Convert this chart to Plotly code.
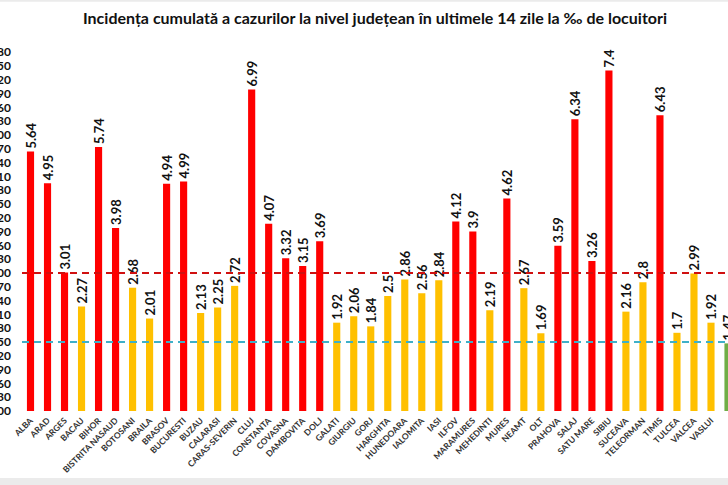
import plotly.graph_objects as go

counties = ["ALBA", "ARAD", "ARGES", "BACAU", "BIHOR", "BISTRITA NASAUD", "BOTOSANI", "BRAILA",
            "BRASOV", "BUCURESTI", "BUZAU", "CALARASI", "CARAS-SEVERIN", "CLUJ", "CONSTANTA",
            "COVASNA", "DAMBOVITA", "DOLJ", "GALATI", "GIURGIU", "GORJ", "HARGHITA", "HUNEDOARA",
            "IALOMITA", "IASI", "ILFOV", "MARAMURES", "MEHEDINTI", "MURES", "NEAMT", "OLT",
            "PRAHOVA", "SALAJ", "SATU MARE", "SIBIU", "SUCEAVA", "TELEORMAN", "TIMIS", "TULCEA",
            "VALCEA", "VASLUI", "VRANCEA"]
values = [5.64, 4.95, 3.01, 2.27, 5.74, 3.98, 2.68, 2.01, 4.94, 4.99, 2.13, 2.25, 2.72, 6.99,
          4.07, 3.32, 3.15, 3.69, 1.92, 2.06, 1.84, 2.5, 2.86, 2.56, 2.84, 4.12, 3.9, 2.19, 4.62,
          2.67, 1.69, 3.59, 6.34, 3.26, 7.4, 2.16, 2.8, 6.43, 1.7, 2.99, 1.92, 1.47]
red_threshold = 3.0
blue_threshold = 1.5
y_ticks = [round(0.3 * i, 2) for i in range(27)]
title = "Incidența cumulată a cazurilor la nivel județean în ultimele 14 zile la ‰ de locuitori"

RED = "#FF0000"
YELLOW = "#FFC000"
GREEN = "#70AD47"
colors = []
for c, v in zip(counties, values):
    if c == "VRANCEA":
        colors.append(GREEN)
    elif v > red_threshold:
        colors.append(RED)
    else:
        colors.append(YELLOW)

labels = [("%g" % v) for v in values]

fig = go.Figure()
fig.add_trace(go.Bar(
    x=list(range(len(counties))), y=values,
    marker=dict(color=colors, line=dict(width=0)),
    width=0.42,
    text=labels, textposition="outside", textangle=-90, constraintext="none",
    textfont=dict(family="Lato", size=13, color="#111111", weight="bold"),
    cliponaxis=False,
))

fig.add_shape(type="line", xref="paper", yref="y", x0=0, x1=1, y0=red_threshold, y1=red_threshold,
              line=dict(color="#D01010", width=2, dash="7px,5px"))
fig.add_shape(type="line", xref="paper", yref="y", x0=0, x1=1, y0=blue_threshold, y1=blue_threshold,
              line=dict(color="#3FB0C8", width=2, dash="7px,5px"))

# light grey bands at top and bottom of the picture
fig.add_shape(type="rect", xref="paper", yref="paper", x0=-0.05, x1=1.05, y0=-0.215, y1=-0.182,
              fillcolor="#EBEBEB", line=dict(width=0), layer="below")
fig.add_shape(type="rect", xref="paper", yref="paper", x0=-0.05, x1=1.05, y0=1.112, y1=1.13,
              fillcolor="#EBEBEB", line=dict(width=0), layer="below")

fig.update_layout(
    width=728, height=485,
    margin=dict(l=22, r=0, t=43, b=74),
    paper_bgcolor="white", plot_bgcolor="white",
    showlegend=False,
    title=dict(text=title, x=0.5, xref="paper", xanchor="center", y=0.962, yanchor="middle",
               font=dict(family="Lato", size=16, color="#111111", weight="bold")),
)
fig.update_xaxes(
    range=[-0.5, 41.0], tickmode="array", tickvals=list(range(len(counties))), ticktext=counties,
    tickangle=-45, tickfont=dict(family="Lato", size=8.5, color="#333333", weight="bold"),
    showgrid=False, zeroline=False, showline=False, ticks="", automargin=False,
    ticklabelstandoff=2,
)
fig.update_yaxes(
    range=[0, 8.0], tickmode="array", tickvals=y_ticks, ticktext=["%.2f" % t for t in y_ticks],
    tickfont=dict(family="Lato", size=12, color="#111111", weight="bold"),
    showgrid=False, zeroline=False, showline=False, ticks="", ticklabelstandoff=10,
    automargin=False,
)

fig.write_html("out.html")
